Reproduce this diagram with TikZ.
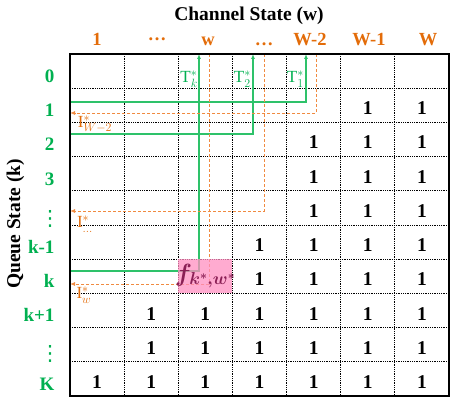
\documentclass[tikz,border=0pt]{standalone}
\usepackage{fontspec}
\setmainfont{Liberation Serif}
\newfontfamily\symbolfont{DejaVu Sans}
\usetikzlibrary{arrows.meta}

\definecolor{qgreen}{HTML}{00B050}
\definecolor{tline}{HTML}{2EC26A}
\definecolor{corange}{HTML}{E36C09}
\definecolor{iline}{HTML}{F08A40}
\definecolor{cellpink}{HTML}{FF8FC0}
\definecolor{fcolor}{HTML}{8A1F55}

\begin{document}
\begin{tikzpicture}
  [x=1pt,y=-1pt
  ,gridline/.style={densely dotted,line width=0.8pt}
  ,one/.style={anchor=base,font=\fontsize{19.5}{21}\selectfont\bfseries}
  ,collabel/.style={anchor=base,text=corange,font=\fontsize{18.5}{20}\selectfont\bfseries}
  ,rowlabel/.style={anchor=base east,text=qgreen,font=\fontsize{19}{21}\selectfont\bfseries}
  ,rowdots/.style={inner sep=0pt,text=qgreen,font=\fontsize{21}{22}\symbolfont}
  ,title/.style={anchor=base,font=\fontsize{19.5}{22}\selectfont\bfseries}
  ,tpath/.style={draw=tline,line width=1.1pt,-{Latex[length=5pt,width=4pt]}}
  ,ipath/.style={draw=iline,line width=0.9pt,dash pattern=on 3pt off 2pt,-{Latex[length=5pt,width=4pt]}}
  ,tlabel/.style={anchor=east,inner sep=0pt,text=qgreen,font=\fontsize{17}{19}\selectfont}
  ,ilabel/.style={inner sep=0pt,text=corange,font=\fontsize{17}{19}\selectfont}
  ]

  \useasboundingbox (0,0) rectangle (457,406);

  % One in a cell
  %
  % #1 - column (1..7)
  % #2 - row (0..9)
  \newcommand{\one}[2]{
    \node[one] (one-#1-#2) at ({70+54.14*(#1-0.5)},{54+34.2*(#2+0.5)+9.5}) {1};
  }

  % Row label
  %
  % #1 - row (0..9)
  % #2 - text
  \newcommand{\rlabel}[2]{
    \node[rowlabel] (row-#1) at (58,{54+34.2*(#1+0.5)+11.3}) {#2};
  }

  % titles
  \node[title] (wtitle) at (249,21) {Channel State (w)};
  \node[title,rotate=90] (ktitle) at (20,224) {Queue State (k)};

  % column labels
  \node[collabel] (col-1) at (97,46) {1};
  \node[collabel] (col-2) at (157,46) {\raisebox{0.3em}{\dots}};
  \node[collabel] (col-3) at (208,46) {w};
  \node[collabel] (col-4) at (264,46) {\dots};
  \node[collabel] (col-5) at (310,46) {W-2};
  \node[collabel] (col-6) at (369,46) {W-1};
  \node[collabel] (col-7) at (428,46) {W};

  % row labels
  \rlabel{0}{0}
  \rlabel{1}{1}
  \rlabel{2}{2}
  \rlabel{3}{3}
  \node[rowdots] (row-4) at (50,{54+34.2*4.5+10.6}) {⋮};
  \rlabel{5}{k-1}
  \rlabel{6}{k}
  \rlabel{7}{k+1}
  \node[rowdots] (row-8) at (50,{54+34.2*8.5+9.6}) {⋮};
  \rlabel{9}{K}

  % grid
  \foreach \c in {1,...,6}
    \draw[gridline] ({70+54.14*\c},54) -- ({70+54.14*\c},396);
  \foreach \r in {1,...,9}
    \draw[gridline] (70,{54+34.2*\r}) -- (449,{54+34.2*\r});

  % ones
  \foreach \r/\s in {1/6,2/5,3/5,4/5,5/4,6/4,7/2,8/2,9/1}{
    \foreach \c in {\s,...,7}{
      \one{\c}{\r}
    }
  }

  % thresholds T
  \coordinate (t1-in) at (70,102);
  \coordinate (t1-out) at (306,54);
  \coordinate (t2-in) at (70,134);
  \coordinate (t2-out) at (253,54);
  \coordinate (tk-in) at (70,271);
  \coordinate (tk-out) at (199,54);
  \draw[tpath] (t1-in) -| (t1-out);
  \draw[tpath] (t2-in) -| (t2-out);
  \draw[tpath] (tk-in) -| (tk-out);
  \node[tlabel] (t1-lab) at (304,79) {$\mathrm{T}^*_1$};
  \node[tlabel] (t2-lab) at (251,79) {$\mathrm{T}^*_2$};
  \node[tlabel] (tk-lab) at (198,79) {$\mathrm{T}^*_k$};

  % thresholds I
  \coordinate (i1-in) at (316,54);
  \coordinate (i1-out) at (70,113);
  \coordinate (i2-in) at (264,54);
  \coordinate (i2-out) at (70,211);
  \coordinate (iw-in) at (209,54);
  \coordinate (iw-out) at (70,284);
  \draw[ipath] (i1-in) |- (i1-out);
  \draw[ipath] (i2-in) |- (i2-out);
  \draw[ipath] (iw-in) |- (iw-out);
  \node[ilabel] (i1-lab) at (95,124) {$\mathrm{I}^*_{W-2}$};
  \node[ilabel] (i2-lab) at (85,224) {$\mathrm{I}^*_{\dots}$};
  \node[ilabel] (iw-lab) at (84,295) {$\mathrm{I}^*_{w}$};

  % optimal cell
  \fill[cellpink,fill opacity=0.75] (178.3,259.2) rectangle (232.4,293.4);
  \node[text=fcolor,font=\fontsize{23}{25}\selectfont\boldmath] (fopt) at (205.4,276) {$f_{k^*,w^*}$};

  % contour
  \draw[line width=1.3pt] (70,54) rectangle (449,396);

\end{tikzpicture}
\end{document}
